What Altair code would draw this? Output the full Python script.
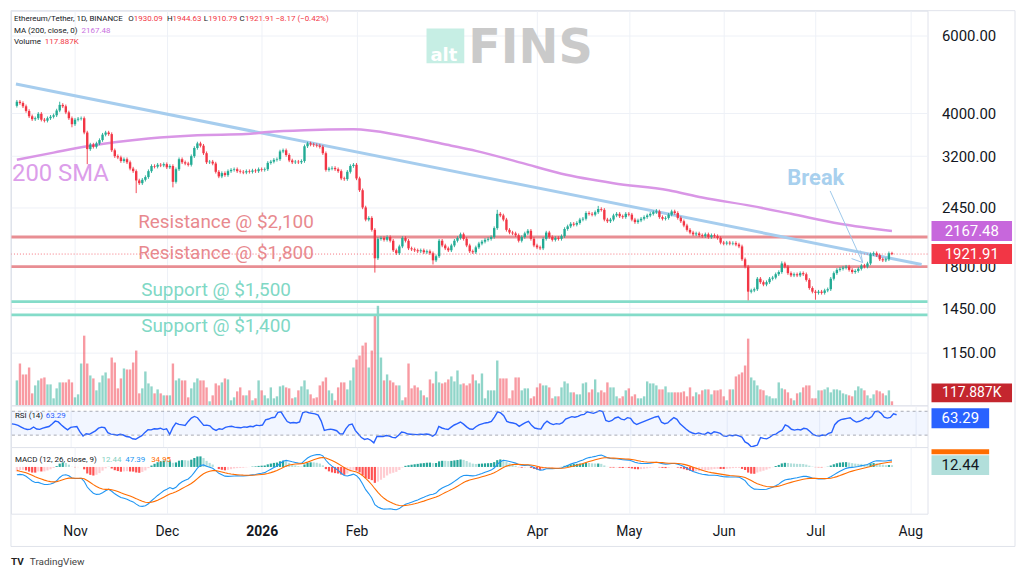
import json
import altair as alt
import numpy as np
import pandas as pd

# ---------------- data ----------------
# daily closes before the visible window (only used to warm up RSI / MACD)
PRIOR_CLOSES = [4360, 4330, 4450, 4290, 4300, 4270, 4300, 4310, 4300, 4350,
                4460, 4710, 4670, 4600, 4520, 4500, 4590, 4590, 4470, 4480,
                4450, 4200, 4160, 4150, 3880, 4030, 4020, 4140, 4220, 4150,
                4350, 4480, 4510, 4480, 4510, 4690, 4460, 4520, 4370, 3840,
                3760, 4160]

# visible daily closes, 13 Oct 2025 .. 26 Jul 2026 (index 0..286)
CLOSES = [
    4250, 4220, 4150, 4050, 3940, 3880, 3900, 3990, 3870, 3850,
    3900, 3930, 3960, 4060, 4180, 4150, 4020, 3900, 3780, 3870,
    3890, 3900, 3620, 3320, 3400, 3360, 3420, 3480, 3580, 3620,
    3590, 3300, 3200, 3180, 3120, 3150, 3100, 3000, 2960, 2820,
    2780, 2830, 2870, 2960, 3040, 3030, 3060, 3050, 3070, 3020,
    3040, 2800, 2990, 3150, 3100, 3080, 3060, 3200, 3340, 3420,
    3380, 3250, 3100, 3110, 3080, 2950, 2880, 2930, 2900, 2960,
    2980, 2990, 2960, 2950, 2940, 2960, 2950, 2970, 2960, 2990,
    2980, 2990, 3090, 3110, 3140, 3150, 3280, 3300, 3220, 3130,
    3100, 3110, 3100, 3120, 3370, 3420, 3400, 3390, 3380, 3360,
    3250, 2980, 3000, 3010, 2990, 2960, 2850, 2840, 2950, 3040,
    3060, 2850, 2680, 2450, 2300, 2320, 2180, 1880, 2080, 2090,
    2070, 2100, 2060, 1960, 1930, 2000, 2090, 2060, 1980, 1970,
    1960, 1950, 1960, 1940, 1950, 1930, 1860, 1900, 2060, 2010,
    1980, 1960, 2010, 2060, 2090, 2130, 2080, 2010, 1950, 1940,
    1990, 2030, 2050, 2070, 2080, 2100, 2200, 2370, 2350, 2300,
    2180, 2150, 2140, 2120, 2060, 2100, 2140, 2170, 2080, 2010,
    1990, 1980, 2080, 2150, 2100, 2070, 2090, 2080, 2110, 2190,
    2220, 2250, 2240, 2260, 2300, 2310, 2380, 2370, 2360, 2390,
    2430, 2420, 2300, 2280, 2300, 2350, 2370, 2340, 2330, 2370,
    2360, 2300, 2270, 2290, 2310, 2330, 2350, 2370, 2390, 2400,
    2330, 2310, 2320, 2360, 2400, 2380, 2320, 2280, 2230, 2180,
    2150, 2130, 2140, 2120, 2110, 2130, 2100, 2120, 2110, 2090,
    2040, 2030, 2040, 2030, 2035, 2020, 2000, 1870, 1800, 1580,
    1590, 1600, 1690, 1660, 1640, 1660, 1690, 1700, 1730, 1750,
    1830, 1800, 1740, 1720, 1730, 1720, 1740, 1730, 1680, 1610,
    1580, 1570, 1580, 1570, 1590, 1600, 1690, 1740, 1770, 1780,
    1790, 1800, 1770, 1750, 1760, 1780, 1810, 1800, 1830, 1920,
    1930, 1910, 1870, 1860, 1870, 1930.09, 1921.91,
]

# daily volume, thousands of ETH
VOLUMES_K = [
    738, 1239, 915, 915, 1121, 354, 590, 738, 797, 826,
    620, 620, 207, 502, 679, 679, 679, 767, 679, 236,
    325, 1239, 2065, 1239, 885, 797, 443, 679, 885, 974,
    797, 1416, 1269, 502, 797, 1092, 1062, 1062, 1269, 1623,
    354, 502, 1003, 649, 561, 354, 472, 354, 295, 295,
    295, 1239, 738, 797, 738, 738, 236, 502, 679, 797,
    738, 738, 531, 118, 295, 649, 590, 679, 797, 767,
    148, 236, 413, 531, 295, 295, 443, 148, 207, 738,
    443, 295, 207, 531, 207, 266, 561, 590, 531, 502,
    207, 236, 443, 561, 738, 472, 325, 207, 236, 590,
    708, 826, 443, 354, 148, 531, 679, 679, 472, 738,
    1121, 1357, 1475, 1770, 1859, 1121, 1623, 2655, 2950, 1416,
    738, 915, 738, 679, 590, 590, 148, 236, 1239, 502,
    590, 531, 443, 295, 236, 767, 649, 1003, 679, 649,
    679, 767, 856, 708, 1033, 620, 649, 590, 649, 915,
    738, 649, 944, 207, 443, 443, 443, 1328, 797, 797,
    797, 207, 443, 826, 826, 443, 502, 502, 207, 266,
    531, 649, 590, 590, 531, 207, 266, 266, 531, 708,
    649, 384, 384, 325, 325, 649, 679, 384, 472, 767,
    384, 443, 384, 679, 531, 531, 266, 207, 266, 443,
    502, 266, 325, 207, 207, 266, 708, 649, 649, 590,
    472, 472, 561, 384, 384, 384, 384, 384, 413, 266,
    531, 266, 384, 325, 443, 472, 472, 325, 443, 443,
    472, 266, 148, 472, 472, 856, 915, 974, 1180, 1977,
    826, 738, 590, 472, 443, 295, 266, 207, 207, 679,
    502, 472, 384, 207, 148, 354, 384, 531, 590, 590,
    207, 207, 443, 443, 472, 531, 384, 472, 472, 443,
    354, 325, 295, 266, 443, 561, 502, 443, 295, 207,
    325, 443, 413, 354, 295, 443, 117.887,
]

# notable wicks (index -> price)
LOW_WICKS = {18: 3720, 23: 3070, 39: 2640, 51: 2720, 117: 1745, 136: 1820,
             239: 1510, 261: 1515, 286: 1910.79}
HIGH_WICKS = {14: 4250, 59: 3450, 95: 3450, 157: 2420, 190: 2470, 209: 2430,
              250: 1850, 286: 1944.63}

# 200-day SMA as drawn
MA_IDX = [0, 12, 23, 43, 59, 75, 82, 94, 110, 126, 142, 150, 165, 178, 195,
          213, 224, 240, 253, 269, 286]
MA_VAL = [3140, 3260, 3370, 3510, 3570, 3590, 3630, 3665, 3680, 3560, 3380,
          3290, 3090, 2920, 2780, 2680, 2580, 2470, 2370, 2250, 2167.48]

# drawn down-trend line (index, price)
TREND_IDX = [-0.3, 295.7]
TREND_PRICE = [4660, 1820]

RESISTANCE = [2100, 1800]
SUPPORT = [1500, 1400]
RES_LABELS = ["Resistance @ $2,100", "Resistance @ $1,800"]
SUP_LABELS = ["Support @ $1,500", "Support @ $1,400"]

# "Break" arrow segments (index, price) -> (index, price)
ARROW_X = [265.8, 276.4, 276.4]
ARROW_Y = [2670, 1839, 1839]
ARROW_X2 = [276.4, 272.8, 275.7]
ARROW_Y2 = [1839, 1877, 1957]

MONTH_TICKS = [19, 49, 80, 111, 170, 200, 231, 261, 292]
MONTH_LABELS = ["Nov", "Dec", "2026", "Feb", "Apr", "May", "Jun", "Jul", "Aug"]
PRICE_TICKS = [1150, 1450, 1800, 2450, 3200, 4000, 6000]

LAST_CLOSE = 1921.91
LAST_MA = 2167.48
LAST_VOL = 117.887
LAST_RSI = 63.29
LAST_HIST = 12.44

# ---------------- derived tables ----------------
n = len(CLOSES)
idx = list(range(n))
opens = [PRIOR_CLOSES[-1]] + CLOSES[:-1]
opens[-1] = 1930.09
highs, lows = [], []
for i in range(n):
    hi = max(opens[i], CLOSES[i]) * 1.009
    lo = min(opens[i], CLOSES[i]) * 0.991
    highs.append(HIGH_WICKS.get(i, hi))
    lows.append(LOW_WICKS.get(i, lo))
UP, DOWN = "#22ab94", "#f23645"
ccol = [UP if CLOSES[i] >= opens[i] else DOWN for i in range(n)]
df = pd.DataFrame({"i": idx, "open": opens, "close": CLOSES, "high": highs,
                   "low": lows, "vol": VOLUMES_K, "cc": ccol})

allc = pd.Series(PRIOR_CLOSES + CLOSES, dtype=float)
delta = allc.diff().fillna(0)
gain = delta.clip(lower=0)
loss = (-delta).clip(lower=0)
ag = gain.ewm(alpha=1 / 14, adjust=False).mean()
al = loss.ewm(alpha=1 / 14, adjust=False).mean()
rsi = 100 - 100 / (1 + ag / al)
ema12 = allc.ewm(span=12, adjust=False).mean()
ema26 = allc.ewm(span=26, adjust=False).mean()
macd = ema12 - ema26
sig = macd.ewm(span=9, adjust=False).mean()
hist = macd - sig
k = len(PRIOR_CLOSES)
rsi_v = rsi.iloc[k:].to_numpy()
macd_v = macd.iloc[k:].to_numpy()
sig_v = sig.iloc[k:].to_numpy()
hist_all = hist.to_numpy()
hcol = []
for j in range(k, len(hist_all)):
    h, p = hist_all[j], hist_all[j - 1]
    if h >= 0:
        hcol.append("#26a69a" if h >= p else "#b2dfdb")
    else:
        hcol.append("#ff5252" if h <= p else "#ffcdd2")
ind = pd.DataFrame({"i": idx, "rsi": rsi_v, "macd": macd_v, "sig": sig_v,
                    "hist": hist_all[k:], "hc": hcol})
mind = pd.DataFrame({"i": idx * 2, "v": list(macd_v) + list(sig_v),
                     "s": ["macd"] * n + ["signal"] * n})

# ---------------- layout ----------------
W = 922
H_PRICE, H_RSI, H_MACD = 397, 42, 67
X_DOMAIN = [-0.3, 296.0]
PRICE_DOMAIN = [874, 6830]
VOL_TOP = 11700  # volume value that would reach the top of the price pane
mlo = float(min(macd_v.min(), sig_v.min()))
MACD_DOMAIN = [mlo * 47 / 43, -mlo * 20 / 43]

FONT = "Roboto"
TXT = "#131722"
GRID = "#eef1f7"
BOX_X0, BOX_X1, BOX_XC = 926, 1007, 966.5

xs = alt.Scale(domain=X_DOMAIN, nice=False, zero=False)
ps = alt.Scale(type="log", domain=PRICE_DOMAIN, nice=False)
rs = alt.Scale(domain=[10, 80], nice=False, zero=False)
ms = alt.Scale(domain=MACD_DOMAIN, nice=False, zero=False)

# volume is drawn in the price pane: map it so that bar height is linear
VOL_EXPR = (f"{PRICE_DOMAIN[0]} * pow({PRICE_DOMAIN[1]} / {PRICE_DOMAIN[0]}, "
            f"datum.vol / {VOL_TOP})")

grid_x = alt.Axis(values=MONTH_TICKS, labels=False, ticks=False, domain=False,
                  grid=True, gridColor=GRID, title=None)
label_expr = (f"{json.dumps(MONTH_LABELS)}"
              f"[indexof({json.dumps(MONTH_TICKS)}, datum.value)]")
bottom_x = alt.Axis(values=MONTH_TICKS, labelExpr=label_expr, ticks=False,
                    domain=False, grid=True, gridColor=GRID, title=None,
                    labelFontSize=14, labelColor=TXT, labelPadding=11,
                    labelFont=FONT,
                    labelFontWeight=alt.condition("datum.value == 80",
                                                  alt.value("bold"),
                                                  alt.value("normal")))
price_axis = alt.Axis(orient="right", values=PRICE_TICKS, format=".2f",
                      labelFontSize=15, labelColor=TXT, ticks=False,
                      domain=False, grid=True, gridColor=GRID, labelPadding=14,
                      title=None, labelOverlap=False, labelFont=FONT)

one = pd.DataFrame({"a": [0]})


def txt(s, x, y, color=TXT, size=8, weight="normal", font=FONT, align="left",
        baseline="middle"):
    return alt.Chart(one).mark_text(
        text=s, color=color, fontSize=size, fontWeight=weight, font=font,
        align=align, baseline=baseline).encode(x=alt.value(x), y=alt.value(y))


# In shared layers an "axis: null" in any layer hides the merged axis, so only
# the carrier layer states the axis and the other layers leave it unspecified.
def PX(field):
    return alt.X(field, type="quantitative", scale=xs)


def PY(field):
    return alt.Y(field, type="quantitative", scale=ps)


# ---- axes carrier (invisible) ----
axes_layer = alt.Chart(df).mark_point(opacity=0, size=1).encode(
    x=alt.X("i:Q", scale=xs, axis=grid_x),
    y=alt.Y("close:Q", scale=ps, axis=price_axis))

# ---- volume ----
vol_bars = alt.Chart(df).transform_calculate(vp=VOL_EXPR).mark_bar(
    size=2.4, opacity=0.5).encode(
    x=PX("i"), y=PY("vp"), y2=alt.datum(PRICE_DOMAIN[0]),
    color=alt.Color("cc:N", scale=None))
vbox_df = pd.DataFrame({"vol": [LAST_VOL], "lab": ["117.887K"]})
vol_box = alt.Chart(vbox_df).transform_calculate(vp=VOL_EXPR).mark_rect(
    color="#c4262e", yOffset=-18, y2Offset=1).encode(
    x=alt.value(BOX_X0), x2=alt.value(BOX_X1), y=PY("vp"), y2=alt.Y2("vp"))
vol_box_t = alt.Chart(vbox_df).transform_calculate(vp=VOL_EXPR).mark_text(
    color="white", fontSize=14, font=FONT, align="center", baseline="middle",
    dy=-8).encode(x=alt.value(BOX_XC), y=PY("vp"), text="lab:N")

# ---- price ----
wicks = alt.Chart(df).mark_rule(strokeWidth=0.9).encode(
    x=PX("i"), y=PY("low"), y2=alt.Y2("high"),
    color=alt.Color("cc:N", scale=None))
bodies = alt.Chart(df).mark_bar(size=2.4).encode(
    x=PX("i"), y=PY("open"), y2=alt.Y2("close"),
    color=alt.Color("cc:N", scale=None))
lv = pd.DataFrame({"p": RESISTANCE + SUPPORT,
                   "c": ["#e88e93"] * len(RESISTANCE) + ["#84dcc9"] * len(SUPPORT)})
levels = alt.Chart(lv).mark_rule(strokeWidth=3).encode(
    y=PY("p"), color=alt.Color("c:N", scale=None))
trend = alt.Chart(pd.DataFrame({"i": TREND_IDX, "p": TREND_PRICE})).mark_line(
    color="#a6cdee", strokeWidth=3).encode(x=PX("i"), y=PY("p"))
ma = alt.Chart(pd.DataFrame({"i": MA_IDX, "p": MA_VAL})).mark_line(
    color="#d996e6", strokeWidth=2.5, interpolate="monotone").encode(
    x=PX("i"), y=PY("p"))
pline = alt.Chart(pd.DataFrame({"p": [LAST_CLOSE]})).mark_rule(
    color="#f23645", strokeDash=[1, 2], strokeWidth=1, opacity=0.7).encode(
    y=PY("p"))
arrow = alt.Chart(pd.DataFrame({"x": ARROW_X, "y": ARROW_Y, "x2": ARROW_X2,
                                "y2": ARROW_Y2})).mark_rule(
    color="#9cc8ea", strokeWidth=1).encode(
    x=PX("x"), x2=alt.X2("x2"), y=PY("y"), y2=alt.Y2("y2"))
pbox_df = pd.DataFrame({"v": [LAST_MA, LAST_CLOSE],
                        "lab": ["2167.48", "1921.91"],
                        "c": ["#c767dc", "#f23645"]})
pboxes = alt.Chart(pbox_df).mark_rect(yOffset=-10, y2Offset=10).encode(
    x=alt.value(BOX_X0), x2=alt.value(BOX_X1), y=PY("v"), y2=alt.Y2("v"),
    color=alt.Color("c:N", scale=None))
pbox_t = alt.Chart(pbox_df).mark_text(color="white", fontSize=15, font=FONT,
                                      align="center", baseline="middle").encode(
    x=alt.value(BOX_XC), y=PY("v"), text="lab:N")

# ---- annotations (text) ----
RED = "#f23645"
annots = [
    # altFINS watermark
    alt.Chart(one).mark_rect(color="#c6eee4").encode(
        x=alt.value(418), x2=alt.value(456), y=alt.value(18), y2=alt.value(53)),
    txt("alt", 422, 51, color="white", size=18, weight="bold",
        font="DejaVu Sans", baseline="alphabetic"),
    txt("FINS", 460, 53, color="#cacaca", size=48, weight="bold",
        font="DejaVu Sans", baseline="alphabetic"),
    # legend header
    txt("Ethereum/Tether, 1D, BINANCE", 3, 8),
    txt("O", 118, 8), txt("1930.09", 123.5, 8, color=RED),
    txt("H", 157, 8), txt("1944.63", 162.5, 8, color=RED),
    txt("L", 194, 8), txt("1910.79", 198.5, 8, color=RED),
    txt("C", 230, 8), txt("1921.91", 235.5, 8, color=RED),
    txt("\u22128.17 (\u22120.42%)", 266, 8, color=RED),
    txt("MA (200, close, 0)", 3, 20), txt("2167.48", 71, 20, color="#c870e0"),
    txt("Volume", 3, 32), txt("117.887K", 34, 32, color=RED),
    # chart annotations
    txt("200 SMA", 1, 164, color="#dc9eea", size=24),
    txt(RES_LABELS[0], 128, 213, color="#e8898e", size=19),
    txt(RES_LABELS[1], 128, 244, color="#e8898e", size=19),
    txt(SUP_LABELS[0], 131, 281, color="#80d8c5", size=19),
    txt(SUP_LABELS[1], 131, 317, color="#80d8c5", size=19),
    txt("Break", 781, 168, color="#a8d0ee", size=22, weight="bold"),
    # outer frame + TradingView mark
    alt.Chart(one).mark_rect(fill="white", fillOpacity=0, stroke="#e0e3eb",
                             strokeWidth=1).encode(
        x=alt.value(0), x2=alt.value(1010), y=alt.value(0), y2=alt.value(539)),
    txt("TV", 0, 555, color="#222222", size=10, weight="bold"),
    txt("TradingView", 19, 555, color="#444444", size=10),
]

price_panel = alt.layer(
    axes_layer, vol_bars, vol_box, vol_box_t, levels, trend, ma, pline, wicks,
    bodies, arrow, pboxes, pbox_t, *annots
).properties(width=W, height=H_PRICE)

# ---- RSI panel ----
band_df = pd.DataFrame({"a": [70], "b": [30]})
band = alt.Chart(band_df).mark_rect(color="#2962ff", opacity=0.06).encode(
    x=alt.value(0), x2=alt.value(W),
    y=alt.Y("a:Q", scale=rs, axis=None), y2=alt.Y2("b"))
rsi_lv = alt.Chart(pd.DataFrame({"v": [70, 30]})).mark_rule(
    color="#9598a1", strokeDash=[3, 3], strokeWidth=0.8).encode(
    y=alt.Y("v:Q", scale=rs, axis=None))
rsi_line = alt.Chart(ind).mark_line(color="#2962ff", strokeWidth=1.4).encode(
    x=alt.X("i:Q", scale=xs, axis=grid_x),
    y=alt.Y("rsi:Q", scale=rs, axis=None))
rbox_df = pd.DataFrame({"v": [LAST_RSI], "lab": ["63.29"]})
rbox = alt.Chart(rbox_df).mark_rect(color="#2962ff", yOffset=-7,
                                    y2Offset=13).encode(
    x=alt.value(BOX_X0), x2=alt.value(984),
    y=alt.Y("v:Q", scale=rs, axis=None), y2=alt.Y2("v"))
rbox_t = alt.Chart(rbox_df).mark_text(color="white", fontSize=15, font=FONT,
                                      align="center", baseline="middle",
                                      dy=3).encode(
    x=alt.value(955), y=alt.Y("v:Q", scale=rs, axis=None), text="lab:N")
rsi_panel = alt.layer(
    rsi_line, band, rsi_lv, rbox, rbox_t,
    txt("RSI (14)", 4, 11), txt("63.29", 35, 11, color="#2962ff"),
).properties(width=W, height=H_RSI)

# ---- MACD panel ----
hist_bars = alt.Chart(ind).mark_bar(size=2.2).encode(
    x=alt.X("i:Q", scale=xs, axis=bottom_x),
    y=alt.Y("hist:Q", scale=ms, axis=None), y2=alt.datum(0),
    color=alt.Color("hc:N", scale=None))
mlines = alt.Chart(mind).mark_line(strokeWidth=1.1).encode(
    x=alt.X("i:Q", scale=xs),
    y=alt.Y("v:Q", scale=ms, axis=None),
    color=alt.Color("s:N", scale=alt.Scale(domain=["macd", "signal"],
                                            range=["#2196f3", "#ff6d00"]),
                    legend=None))
mbox_df = pd.DataFrame({"v": [LAST_HIST], "lab": ["12.44"]})
mbox_o = alt.Chart(mbox_df).mark_rect(color="#ff6d00", yOffset=-16,
                                      y2Offset=-11).encode(
    x=alt.value(BOX_X0), x2=alt.value(984),
    y=alt.Y("v:Q", scale=ms, axis=None), y2=alt.Y2("v"))
mbox = alt.Chart(mbox_df).mark_rect(color="#b2dfdb", yOffset=-10,
                                    y2Offset=10).encode(
    x=alt.value(BOX_X0), x2=alt.value(984),
    y=alt.Y("v:Q", scale=ms, axis=None), y2=alt.Y2("v"))
mbox_t = alt.Chart(mbox_df).mark_text(color=TXT, fontSize=15, font=FONT,
                                      align="center", baseline="middle").encode(
    x=alt.value(955), y=alt.Y("v:Q", scale=ms, axis=None), text="lab:N")
macd_panel = alt.layer(
    hist_bars, mlines, mbox_o, mbox, mbox_t,
    txt("MACD (12, 26, close, 9)", 4, 13), txt("12.44", 91, 13, color="#7fcfc0"),
    txt("47.39", 115, 13, color="#2196f3"), txt("34.95", 141, 13, color="#ff6d00"),
).properties(width=W, height=H_MACD)

chart = alt.vconcat(price_panel, rsi_panel, macd_panel, spacing=0,
                    bounds="flush").properties(
    padding=0, background="white"
).configure_view(stroke="#e0e3eb", strokeWidth=1).configure_text(font=FONT)

chart.save("out.html", embed_options={"renderer": "svg", "actions": False})
